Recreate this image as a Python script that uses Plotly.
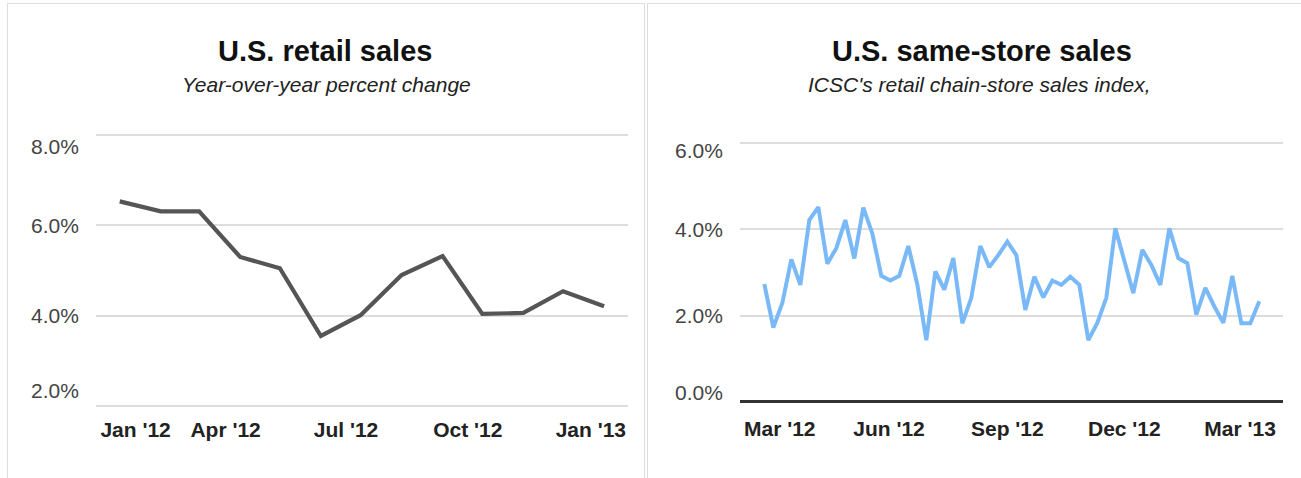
import plotly.graph_objects as go
import pandas as pd

# ---------------- data ----------------
retail_months = ["2012-01-15", "2012-02-15", "2012-03-15", "2012-04-15", "2012-05-15",
                 "2012-06-15", "2012-07-15", "2012-08-15", "2012-09-15", "2012-10-15",
                 "2012-11-15", "2012-12-15", "2013-01-15"]
retail_yoy = [6.53, 6.31, 6.31, 5.30, 5.05, 3.55, 4.01, 4.90, 5.32, 4.04, 4.06, 4.54, 4.21]

icsc_first_week = "2012-02-25"
icsc_values = [2.73, 1.72, 2.29, 3.30, 2.71, 4.21, 4.51, 3.20, 3.56, 4.21,
               3.32, 4.50, 3.90, 2.92, 2.81, 2.92, 3.61, 2.72, 1.43, 3.02,
               2.60, 3.33, 1.82, 2.41, 3.61, 3.12, 3.40, 3.71, 3.40, 2.13,
               2.90, 2.42, 2.81, 2.71, 2.90, 2.71, 1.43, 1.83, 2.41, 4.02,
               3.27, 2.52, 3.52, 3.17, 2.71, 4.02, 3.33, 3.21, 2.02, 2.64,
               2.21, 1.83, 2.92, 1.82, 1.82, 2.33]

left_title = "U.S. retail sales"
left_subtitle = "Year-over-year percent change"
right_title = "U.S. same-store sales"
right_subtitle = "ICSC's retail chain-store sales index,"

left_tick_dates = ["2012-01-27", "2012-04-04", "2012-07-04", "2012-10-04", "2013-01-05"]
left_tick_text = ["Jan '12", "Apr '12", "Jul '12", "Oct '12", "Jan '13"]
right_tick_dates = ["2012-03-08", "2012-06-01", "2012-09-01", "2012-12-01", "2013-03-01"]
right_tick_text = ["Mar '12", "Jun '12", "Sep '12", "Dec '12", "Mar '13"]

left_yticks = [2, 4, 6, 8]
right_yticks = [0, 2, 4, 6]

icsc_weeks = pd.date_range(icsc_first_week, periods=len(icsc_values), freq="7D")

# ---------------- figure ----------------
W, H = 1301, 478
FONT = "Liberation Sans, Arial, sans-serif"

fig = go.Figure()
fig.add_trace(go.Scatter(x=retail_months, y=retail_yoy, mode="lines",
                         line=dict(color="#555555", width=4.2), xaxis="x", yaxis="y",
                         hoverinfo="skip"))
fig.add_trace(go.Scatter(x=icsc_weeks, y=icsc_values, mode="lines",
                         line=dict(color="#7ab9f7", width=4), xaxis="x2", yaxis="y2",
                         hoverinfo="skip"))

xt = dict(family=FONT, size=21, color="#222222", weight="bold")
ylab_font = dict(family=FONT, size=21, color="#444444")

L_X0, L_X1 = 95.5, 628
R_X0, R_X1 = 740, 1283

fig.update_layout(
    width=W, height=H,
    margin=dict(l=0, r=0, t=0, b=0),
    paper_bgcolor="white", plot_bgcolor="white",
    showlegend=False,
    font=dict(family=FONT),
    xaxis=dict(domain=[L_X0 / W, L_X1 / W], type="date",
               range=["2011-12-27 17:00", "2013-02-02 02:00"],
               tickvals=left_tick_dates, ticktext=left_tick_text,
               showgrid=False, zeroline=False, showline=False, ticks="",
               tickfont=xt, ticklabelstandoff=4),
    yaxis=dict(domain=[(H - 410.5) / H, (H - 130.5) / H], anchor="x",
               range=[1.9, 8.1], tickvals=left_yticks, showticklabels=False,
               showgrid=True, gridcolor="#dddddd", gridwidth=2, zeroline=False,
               showline=False, ticks=""),
    xaxis2=dict(domain=[R_X0 / W, R_X1 / W], type="date", anchor="y2",
                range=["2012-02-06 02:00", "2013-04-03 10:00"],
                tickvals=right_tick_dates, ticktext=right_tick_text,
                showgrid=False, zeroline=False, showline=False, ticks="",
                tickfont=xt, ticklabelstandoff=8),
    yaxis2=dict(domain=[(H - 406.3) / H, (H - 138.4) / H], anchor="x2",
                range=[-0.1, 6.1], tickvals=right_yticks, showticklabels=False,
                showgrid=True, gridcolor="#dddddd", gridwidth=2,
                zeroline=True, zerolinecolor="#333333", zerolinewidth=2.5,
                showline=False, ticks=""),
)

# y tick labels (edge labels kept inside the plot area, as in the original)
def ylabels(vals, yref, x_left_px, low_shift, high_shift):
    for i, v in enumerate(vals):
        shift = 0
        if i == 0:
            shift = low_shift
        elif i == len(vals) - 1:
            shift = high_shift
        fig.add_annotation(text=f"{v:.1f}%", xref="paper", yref=yref,
                           x=(x_left_px - 15) / W, y=v, xanchor="right", yanchor="middle",
                           yshift=shift, showarrow=False, font=ylab_font)

ylabels(left_yticks, "y", L_X0, 15, -11)
ylabels(right_yticks, "y2", R_X0, 9, -8)

# panel borders
fig.add_shape(type="rect", xref="paper", yref="paper",
              x0=7.5 / W, x1=644.5 / W, y0=-0.1, y1=1 - 3.5 / H,
              line=dict(color="#dddddd", width=1), fillcolor="rgba(0,0,0,0)", layer="below")
fig.add_shape(type="rect", xref="paper", yref="paper",
              x0=647.5 / W, x1=1.1, y0=-0.1, y1=1 - 3.5 / H,
              line=dict(color="#dddddd", width=1), fillcolor="rgba(0,0,0,0)", layer="below")

def title(text, xc, yc, size, bold=False, italic=False, color="#111111"):
    fig.add_annotation(text=text, xref="paper", yref="paper", x=xc / W, y=1 - yc / H,
                       xanchor="center", yanchor="middle", showarrow=False,
                       font=dict(family=FONT, size=size, color=color,
                                 weight="bold" if bold else "normal",
                                 style="italic" if italic else "normal"))

title(left_title, 325, 51, 29, bold=True)
title(left_subtitle, 326, 84, 21, italic=True, color="#222222")
title(right_title, 982, 51, 29, bold=True)
title(right_subtitle, 979, 84, 21, italic=True, color="#222222")

post = ("document.documentElement.style.margin='0';"
        "document.body.style.margin='0';document.body.style.overflow='hidden';"
        "var d=document.getElementById('{plot_id}');"
        "d.style.position='fixed';d.style.top='0px';d.style.left='0px';")

fig.write_html("out.html", config={"displayModeBar": False}, post_script=post)
